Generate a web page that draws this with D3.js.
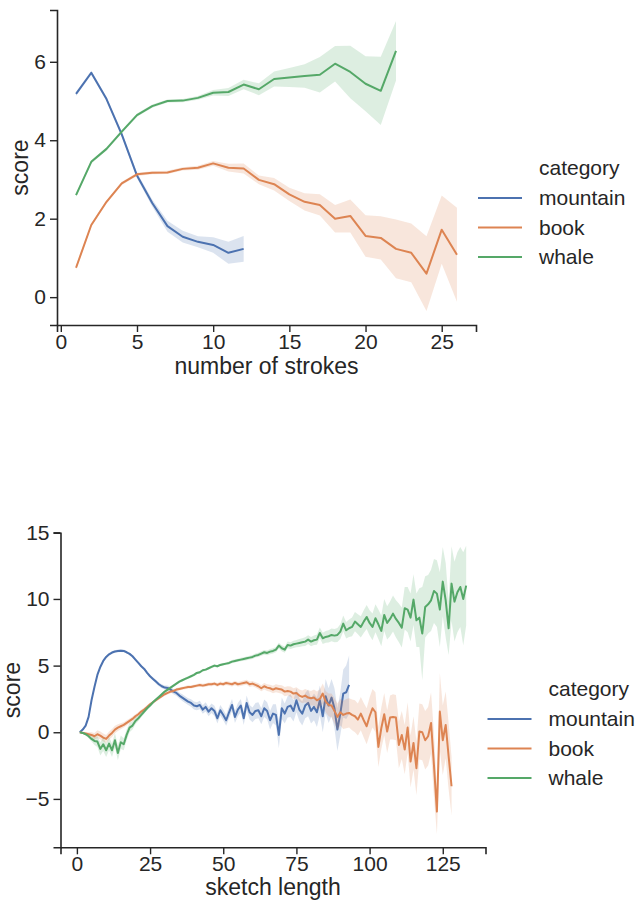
<!DOCTYPE html>
<html lang="en">
<head>
  <meta charset="UTF-8">
  <title>Sketch scores</title>
  <script src="https://cdnjs.cloudflare.com/ajax/libs/d3/7.8.5/d3.min.js"></script>
  <style>
    body { margin: 0; background: white; }
    svg { display: block; font-family: "Liberation Sans", Arial, sans-serif; }
  </style>
</head>
<body>
  <script>
    var categories = ["mountain", "book", "whale"];
    var colors = ["#4C72B0", "#DD8452", "#55A868"];

    // top panel: mean score by number of strokes (x starts at 1)
    var strokesMountain = [5.18, 5.72, 5.05, 4.15, 3.1, 2.4, 1.81, 1.54, 1.41, 1.33, 1.13, 1.23];
    var strokesMountainCI = [0.05, 0.05, 0.05, 0.06, 0.07, 0.09, 0.14, 0.15, 0.14, 0.2, 0.28, 0.33];
    var strokesBook = [0.75, 1.84, 2.43, 2.9, 3.13, 3.17, 3.18, 3.27, 3.3, 3.41, 3.3, 3.28, 2.99,
      2.88, 2.62, 2.43, 2.35, 2.0, 2.07, 1.56, 1.51, 1.23, 1.13, 0.6, 1.72, 1.08];
    var strokesBookCI = [0.05, 0.04, 0.04, 0.04, 0.04, 0.04, 0.04, 0.04, 0.05, 0.06, 0.1, 0.13, 0.11,
      0.16, 0.17, 0.22, 0.27, 0.35, 0.42, 0.53, 0.55, 0.75, 0.75, 0.95, 0.87, 1.2];
    var strokesWhale = [2.6, 3.45, 3.78, 4.22, 4.64, 4.87, 5.0, 5.01, 5.08, 5.21, 5.23, 5.42, 5.3,
      5.56, 5.6, 5.64, 5.67, 5.95, 5.74, 5.44, 5.26, 6.28];
    var strokesWhaleCI = [0.04, 0.04, 0.04, 0.04, 0.04, 0.04, 0.04, 0.04, 0.05, 0.07, 0.1, 0.12, 0.15,
      0.19, 0.24, 0.3, 0.45, 0.45, 0.67, 0.7, 0.87, 0.76];

    // bottom panel: mean score by sketch length (x starts at 1)
    var lengthMountain = [
      0.0, 0.2, 0.5, 1.15, 2.4, 3.4, 4.3, 4.9, 5.35, 5.65,
      5.85, 5.98, 6.06, 6.1, 6.12, 6.1, 6.0, 5.88, 5.7, 5.45,
      5.2, 4.95, 4.75, 4.45, 4.2, 4.0, 3.8, 3.6, 3.45, 3.35,
      3.32, 3.2, 3.05, 2.95, 2.75, 2.6, 2.45, 2.3, 2.2, 2.0,
      1.95, 2.05, 1.7, 1.9, 1.55, 1.8, 1.6, 1.05, 1.65, 1.3,
      0.9, 1.5, 2.05, 1.15, 1.7, 2.0, 1.05, 2.2, 1.5, 1.3,
      1.6, 1.65, 1.2, 1.8, 1.6, 0.9, 1.4, 1.3, -0.2, 1.8,
      1.4, 1.9, 2.0, 1.6, 2.4, 1.7, 1.4, 2.0, 2.2, 1.6,
      1.9, 1.5, 2.4, 1.2, 2.7, 2.0, 2.6, 1.8, 0.2, 1.4,
      2.9, 3.0, 3.55];
    var lengthMountainCI = [
      0.03, 0.05, 0.08, 0.1, 0.12, 0.12, 0.1, 0.1, 0.1, 0.1,
      0.1, 0.1, 0.1, 0.1, 0.1, 0.1, 0.1, 0.1, 0.1, 0.1,
      0.1, 0.1, 0.1, 0.12, 0.12, 0.12, 0.14, 0.14, 0.15, 0.15,
      0.18, 0.2, 0.2, 0.22, 0.22, 0.25, 0.25, 0.25, 0.28, 0.3,
      0.3, 0.32, 0.32, 0.35, 0.35, 0.35, 0.38, 0.4, 0.4, 0.4,
      0.42, 0.45, 0.45, 0.45, 0.5, 0.5, 0.5, 0.55, 0.55, 0.55,
      0.6, 0.6, 0.6, 0.65, 0.65, 0.7, 0.7, 0.8, 1.0, 0.8,
      0.75, 0.8, 0.85, 0.8, 0.9, 0.85, 0.9, 0.95, 1.0, 0.95,
      1.0, 1.1, 1.1, 1.2, 1.3, 1.3, 1.4, 1.5, 1.6, 1.6,
      1.8, 2.0, 2.2];
    var lengthBook = [
      0.0, -0.05, -0.1, -0.15, -0.2, -0.3, -0.15, -0.25, -0.4, -0.5,
      -0.25, -0.05, 0.2, 0.35, 0.45, 0.55, 0.7, 0.85, 1.0, 1.2,
      1.35, 1.55, 1.7, 1.9, 2.1, 2.25, 2.4, 2.55, 2.7, 2.85,
      2.95, 3.05, 3.1, 3.2, 3.25, 3.3, 3.35, 3.4, 3.4, 3.45,
      3.5, 3.55, 3.5, 3.55, 3.6, 3.6, 3.65, 3.55, 3.65, 3.6,
      3.7, 3.65, 3.6, 3.7, 3.6, 3.65, 3.7, 3.75, 3.6, 3.65,
      3.55, 3.45, 3.3, 3.45, 3.35, 3.3, 3.2, 3.3, 3.25, 3.2,
      3.05, 3.1, 3.05, 2.9, 2.95, 2.75, 2.65, 2.75, 2.6, 2.55,
      2.6, 2.4, 2.5, 2.9, 2.3, 2.05, 2.0, 1.6, 1.15, 1.5,
      1.3, 1.4, 1.45, 1.3, 1.2, 0.95, 1.4, 0.9, 0.45, 1.2,
      1.8, 1.5, -1.1, 0.3, 1.35, 0.05, 1.1, 1.15, 1.1, -0.95,
      -0.2, -1.3, 0.35, -2.2, -0.8, -2.7, 0.05, 0.0, -0.6, -0.3,
      0.7, -2.5, -5.95, 1.55, -0.6, 0.55, -1.8, -4.05];
    var lengthBookCI = [
      0.03, 0.08, 0.12, 0.15, 0.2, 0.25, 0.3, 0.3, 0.3, 0.3,
      0.3, 0.3, 0.28, 0.25, 0.22, 0.2, 0.2, 0.18, 0.18, 0.16,
      0.15, 0.15, 0.14, 0.14, 0.13, 0.13, 0.12, 0.12, 0.12, 0.12,
      0.12, 0.12, 0.12, 0.12, 0.12, 0.12, 0.12, 0.12, 0.12, 0.12,
      0.12, 0.12, 0.13, 0.13, 0.13, 0.14, 0.14, 0.14, 0.15, 0.15,
      0.15, 0.16, 0.16, 0.17, 0.17, 0.18, 0.18, 0.19, 0.2, 0.2,
      0.2, 0.22, 0.22, 0.24, 0.25, 0.26, 0.28, 0.3, 0.3, 0.32,
      0.35, 0.35, 0.38, 0.4, 0.42, 0.45, 0.48, 0.5, 0.55, 0.55,
      0.6, 0.65, 0.7, 0.75, 0.8, 0.85, 0.9, 0.95, 1.0, 1.0,
      1.05, 1.1, 1.1, 1.15, 1.2, 1.2, 1.25, 1.3, 1.35, 1.4,
      1.45, 1.5, 1.5, 1.55, 1.6, 1.6, 1.65, 1.7, 1.7, 1.75,
      1.8, 1.85, 1.9, 1.95, 2.0, 2.0, 2.1, 2.1, 2.2, 2.2,
      2.3, 2.4, 1.7, 2.9, 2.6, 2.5, 2.5, 2.2];
    var lengthWhale = [
      0.0, -0.05, -0.15, -0.3, -0.5, -0.65, -0.7, -1.25, -0.9, -1.35,
      -0.85, -1.35, -0.6, -1.55, -0.75, -0.9, -0.2, 0.35, 0.5, 0.85,
      1.05, 1.3, 1.55, 1.8, 2.0, 2.25, 2.45, 2.65, 2.85, 3.05,
      3.2, 3.35, 3.5, 3.65, 3.8, 3.9, 4.0, 4.1, 4.2, 4.3,
      4.45, 4.5, 4.65, 4.7, 4.8, 4.9, 5.0, 4.95, 5.05, 5.1,
      5.15, 5.2, 5.3, 5.35, 5.4, 5.45, 5.5, 5.55, 5.6, 5.65,
      5.75, 5.8, 5.9, 6.0, 5.95, 6.05, 6.1, 6.2, 6.5, 6.3,
      6.2, 6.55, 6.5, 6.6, 6.65, 6.7, 6.75, 6.8, 6.95, 6.8,
      6.9, 6.95, 7.45, 7.05, 7.15, 7.2, 7.3, 7.25, 7.3, 7.55,
      8.15, 7.65, 7.8, 7.9, 8.3, 8.1, 7.9, 8.3, 8.65, 8.2,
      7.9, 8.55, 8.1, 7.6, 8.8, 8.2, 8.5, 8.9, 8.5, 8.2,
      7.85, 9.3, 9.2, 8.6, 9.95, 8.4, 8.6, 7.4, 9.4, 9.6,
      9.9, 10.6, 10.4, 9.2, 11.3, 9.9, 7.8, 11.15, 9.8, 10.5,
      10.9, 10.0, 11.0];
    var lengthWhaleCI = [
      0.03, 0.06, 0.1, 0.15, 0.2, 0.3, 0.4, 0.5, 0.5, 0.5,
      0.5, 0.5, 0.55, 0.55, 0.5, 0.45, 0.4, 0.35, 0.3, 0.25,
      0.2, 0.18, 0.16, 0.14, 0.12, 0.12, 0.1, 0.1, 0.1, 0.1,
      0.1, 0.1, 0.1, 0.1, 0.1, 0.1, 0.1, 0.1, 0.1, 0.1,
      0.1, 0.1, 0.1, 0.1, 0.1, 0.1, 0.1, 0.1, 0.1, 0.1,
      0.11, 0.11, 0.12, 0.12, 0.12, 0.13, 0.13, 0.14, 0.14, 0.15,
      0.15, 0.16, 0.17, 0.18, 0.18, 0.19, 0.2, 0.2, 0.22, 0.22,
      0.24, 0.25, 0.26, 0.27, 0.28, 0.3, 0.3, 0.32, 0.33, 0.35,
      0.36, 0.38, 0.4, 0.42, 0.44, 0.46, 0.48, 0.5, 0.52, 0.55,
      0.6, 0.62, 0.65, 0.7, 0.72, 0.75, 0.8, 0.85, 0.9, 0.95,
      1.0, 1.05, 1.1, 1.15, 1.2, 1.25, 1.3, 1.35, 1.4, 1.45,
      1.5, 1.6, 1.7, 1.8, 1.9, 2.0, 2.2, 3.5, 2.3, 2.2,
      2.3, 2.4, 2.5, 2.8, 2.6, 2.8, 2.0, 2.8, 3.0, 3.0,
      3.0, 3.5, 3.0];

    var strokeTicks = [0, 5, 10, 15, 20, 25];
    var strokeScoreTicks = [0, 2, 4, 6];
    var lengthTicks = [0, 25, 50, 75, 100, 125];
    var lengthScoreTicks = [-5, 0, 5, 10, 15];

    var W = 636, H = 907;
    var ink = "#262626";

    var svg = d3.select("body").append("svg")
      .attr("width", W)
      .attr("height", H);

    function drawPanel(p) {
      var x = d3.scaleLinear().domain(p.xDomain).range([p.left, p.right]);
      var y = d3.scaleLinear().domain(p.yDomain).range([p.bottom, p.top]);
      var g = svg.append("g");

      p.series.forEach(function(vals, i) {
        var pts = vals.map(function(v, j) {
          return { x: j + 1, y: v, lo: v - p.ci[i][j], hi: v + p.ci[i][j] };
        });
        var area = d3.area()
          .x(function(d) { return x(d.x); })
          .y0(function(d) { return y(d.lo); })
          .y1(function(d) { return y(d.hi); });
        var line = d3.line()
          .x(function(d) { return x(d.x); })
          .y(function(d) { return y(d.y); });
        g.append("path").datum(pts)
          .attr("d", area)
          .attr("fill", colors[i])
          .attr("fill-opacity", 0.2);
        g.append("path").datum(pts)
          .attr("d", line)
          .attr("fill", "none")
          .attr("stroke", colors[i])
          .attr("stroke-width", 2)
          .attr("stroke-linejoin", "round");
      });

      var xAxis = g.append("g")
        .attr("transform", "translate(0," + p.bottom + ")")
        .call(d3.axisBottom(x).tickValues(p.xTicks).tickSizeOuter(0).tickSize(7).tickPadding(2));
      var yAxis = g.append("g")
        .attr("transform", "translate(" + p.left + ",0)")
        .call(d3.axisLeft(y).tickValues(p.yTicks).tickSizeOuter(0).tickSize(7).tickPadding(4));
      [xAxis, yAxis].forEach(function(a) {
        a.select(".domain").attr("stroke", ink).attr("stroke-width", 1.6);
        a.selectAll(".tick line").attr("stroke", ink).attr("stroke-width", 1.4);
        a.selectAll(".tick text")
          .attr("fill", ink)
          .style("font-size", "21px");
      });

      g.append("text")
        .attr("x", (p.left + p.right) / 2)
        .attr("y", p.bottom + p.xLabelGap)
        .attr("text-anchor", "middle")
        .attr("fill", ink)
        .style("font-size", "23px")
        .text(p.xLabel);
      g.append("text")
        .attr("transform", "translate(" + p.yLabelX + "," + ((p.top + p.bottom) / 2) + ") rotate(-90)")
        .attr("text-anchor", "middle")
        .attr("fill", ink)
        .style("font-size", "23px")
        .text("score");

      // legend
      var lx = p.right + 2, tx = lx + 61;
      g.append("text")
        .attr("x", tx)
        .attr("y", p.legendTop)
        .attr("dy", "0.35em")
        .attr("fill", ink)
        .style("font-size", "21px")
        .text("category");
      categories.forEach(function(c, i) {
        var ly = p.legendTop + 30 + i * 29.5;
        g.append("line")
          .attr("x1", lx).attr("x2", lx + 44)
          .attr("y1", ly).attr("y2", ly)
          .attr("stroke", colors[i])
          .attr("stroke-width", 2);
        g.append("text")
          .attr("x", tx)
          .attr("y", ly)
          .attr("dy", "0.35em")
          .attr("fill", ink)
          .style("font-size", "21px")
          .text(c);
      });
    }

    drawPanel({
      left: 57, right: 476, top: 10, bottom: 325,
      xDomain: [-0.25, 27.25], yDomain: [-0.71, 7.32],
      xTicks: strokeTicks, yTicks: strokeScoreTicks,
      series: [strokesMountain, strokesBook, strokesWhale],
      ci: [strokesMountainCI, strokesBookCI, strokesWhaleCI],
      xLabel: "number of strokes", xLabelGap: 49, yLabelX: 28, legendTop: 168
    });

    drawPanel({
      left: 60.5, right: 485.5, top: 532.7, bottom: 847.3,
      xDomain: [-5.6, 139.6], yDomain: [-8.63, 14.97],
      xTicks: lengthTicks, yTicks: lengthScoreTicks,
      series: [lengthMountain, lengthBook, lengthWhale],
      ci: [lengthMountainCI, lengthBookCI, lengthWhaleCI],
      xLabel: "sketch length", xLabelGap: 48, yLabelX: 20, legendTop: 689
    });
  </script>
</body>
</html>
